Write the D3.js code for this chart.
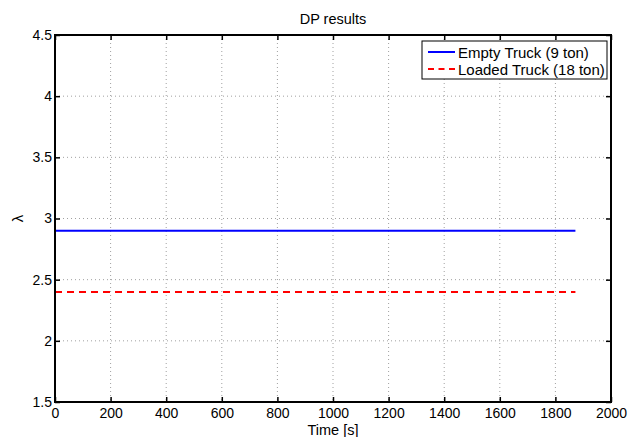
<!DOCTYPE html>
<html>
<head>
<meta charset="utf-8">
<title>DP results</title>
<style>
  body { margin: 0; background: #fff; }
  text { font-family: "Liberation Sans", Arial, Helvetica, sans-serif; }
</style>
</head>
<body>
<script src="https://d3js.org/d3.v7.min.js"></script>
<script>
// Datos
var timeS = [0, 1872];
var emptyTruck = [2.9, 2.9];
var loadedTruck = [2.4, 2.4];
var xTicks = [0, 200, 400, 600, 800, 1000, 1200, 1400, 1600, 1800, 2000];
var yTicks = [1.5, 2, 2.5, 3, 3.5, 4, 4.5];
var seriesNames = ["Empty Truck (9 ton)", "Loaded Truck (18 ton)"];

var width = 630, height = 437;
var margin = {left: 55, top: 35, right: 19, bottom: 35};
var iw = width - margin.left - margin.right;
var ih = height - margin.top - margin.bottom;

var svg = d3.select("body").append("svg")
  .attr("width", width)
  .attr("height", height);

var x = d3.scaleLinear().domain([0, 2000]).range([0, iw]);
var y = d3.scaleLinear().domain([1.5, 4.5]).range([ih, 0]);

var g = svg.append("g").attr("transform", "translate(" + margin.left + "," + margin.top + ")");

// Rejilla punteada
g.selectAll(".vgrid").data(xTicks.slice(1, -1)).enter().append("line")
  .attr("x1", d => x(d)).attr("x2", d => x(d))
  .attr("y1", 0).attr("y2", ih)
  .attr("stroke", "#a0a0a0").attr("stroke-width", 1)
  .attr("stroke-dasharray", "1,3");
g.selectAll(".hgrid").data(yTicks.slice(1, -1)).enter().append("line")
  .attr("x1", 0).attr("x2", iw)
  .attr("y1", d => y(d)).attr("y2", d => y(d))
  .attr("stroke", "#a0a0a0").attr("stroke-width", 1)
  .attr("stroke-dasharray", "1,3");

// Líneas de datos
var line = d3.line()
  .x((d, i) => x(timeS[i]))
  .y(d => y(d));

g.append("path").datum(emptyTruck)
  .attr("d", line).attr("fill", "none")
  .attr("stroke", "#0000ff").attr("stroke-width", 2);
g.append("path").datum(loadedTruck)
  .attr("d", line).attr("fill", "none")
  .attr("stroke", "#ff0000").attr("stroke-width", 2)
  .attr("stroke-dasharray", "7,5");

// Ejes
var xAxis = d3.axisBottom(x).tickValues(xTicks).tickSize(-5).tickPadding(6).tickFormat(d3.format("d"));
var yAxis = d3.axisLeft(y).tickValues(yTicks).tickSize(-5).tickPadding(3).tickFormat(d3.format("~g"));
var xTop = d3.axisTop(x).tickValues(xTicks).tickSize(-5).tickFormat("");
var yRight = d3.axisRight(y).tickValues(yTicks).tickSize(-5).tickFormat("");

function styleAxis(sel) {
  sel.select(".domain").remove();
  sel.selectAll(".tick line").attr("stroke", "#000").attr("stroke-width", 1.5);
  sel.selectAll("text").attr("fill", "#000").style("font-size", "14px");
}
g.append("g").attr("transform", "translate(0," + ih + ")").call(xAxis).call(styleAxis);
g.append("g").call(yAxis).call(styleAxis);
g.append("g").call(xTop).call(styleAxis);
g.append("g").attr("transform", "translate(" + iw + ",0)").call(yRight).call(styleAxis);

g.append("rect").attr("width", iw).attr("height", ih)
  .attr("fill", "none").attr("stroke", "#000").attr("stroke-width", 2);

// Títulos
svg.append("text").attr("x", margin.left + iw / 2).attr("y", 24)
  .attr("text-anchor", "middle").style("font-size", "14.5px").text("DP results");
svg.append("text").attr("x", margin.left + iw / 2).attr("y", 434.5)
  .attr("text-anchor", "middle").style("font-size", "14.5px").text("Time [s]");
svg.append("text")
  .attr("transform", "translate(23," + (margin.top + ih / 2) + ") rotate(-90)")
  .attr("text-anchor", "middle").style("font-size", "15px").text("λ");

// Leyenda
var lg = svg.append("g").attr("transform", "translate(422,41)");
lg.append("rect").attr("width", 185).attr("height", 38)
  .attr("fill", "#fff").attr("stroke", "#000").attr("stroke-width", 1);
var colors = ["#0000ff", "#ff0000"];
var dashes = [null, "6,4.5"];
seriesNames.forEach(function(name, i) {
  var yy = 11 + i * 17;
  lg.append("line").attr("x1", 6).attr("x2", 33).attr("y1", yy).attr("y2", yy)
    .attr("stroke", colors[i]).attr("stroke-width", 2)
    .attr("stroke-dasharray", dashes[i]);
  lg.append("text").attr("x", 36).attr("y", yy + 5.5)
    .style("font-size", "15px").text(name);
});
</script>
</body>
</html>
